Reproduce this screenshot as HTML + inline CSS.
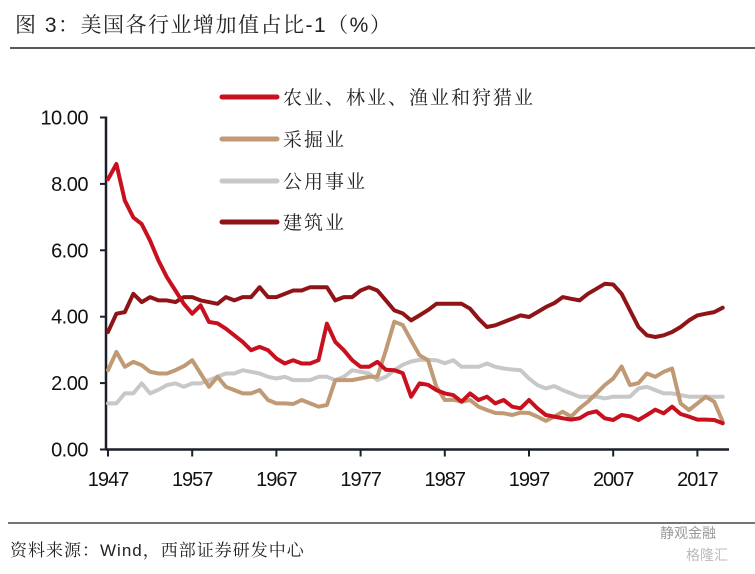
<!DOCTYPE html>
<html><head><meta charset="utf-8">
<style>
html,body{margin:0;padding:0;background:#fff;}
body{width:755px;height:569px;overflow:hidden;font-family:"Liberation Sans","Noto Serif CJK SC","Noto Sans CJK SC",sans-serif;}
</style></head>
<body>
<svg id="chart" width="755" height="569" viewBox="0 0 755 569" xmlns="http://www.w3.org/2000/svg">
  <text x="15" y="32" font-size="21" fill="#222" font-family="'Liberation Sans','Noto Serif CJK SC',serif" letter-spacing="1.5">图 3：美国各行业增加值占比-1（%）</text>
  <line x1="10" y1="48" x2="755" y2="48" stroke="#222" stroke-width="1.5"/>
  <g id="axes"></g>
  <g id="series"></g>
  <g id="legend"></g>
  <line x1="8" y1="523" x2="755" y2="523" stroke="#222" stroke-width="1.2"/>
  <text x="10" y="556" font-size="17" fill="#222" font-family="'Liberation Sans','Noto Serif CJK SC',serif" letter-spacing="1">资料来源：Wind，西部证券研发中心</text>
  <text x="660" y="538" font-size="14" fill="#999" font-family="'Liberation Sans','Noto Sans CJK SC',sans-serif">静观金融</text>
  <text x="686" y="560" font-size="14" fill="#bbb" font-family="'Liberation Sans','Noto Sans CJK SC',sans-serif">格隆汇</text>
</svg>
<script>
const years = [];
for (let y = 1947; y <= 2020; y++) years.push(y);
const seriesNames = ["农业、林业、渔业和狩猎业","采掘业","公用事业","建筑业"];
const agriculture = [8.14,8.6,7.5,6.99,6.79,6.29,5.69,5.19,4.79,4.39,4.09,4.34,3.84,3.8,3.64,3.44,3.24,2.99,3.09,2.99,2.74,2.59,2.69,2.59,2.59,2.69,3.79,3.24,2.99,2.69,2.49,2.49,2.64,2.4,2.39,2.3,1.59,1.99,1.95,1.79,1.69,1.64,1.44,1.69,1.49,1.59,1.39,1.49,1.29,1.24,1.49,1.24,1.04,0.99,0.94,0.9,0.94,1.09,1.15,0.94,0.89,1.04,1.0,0.89,1.04,1.2,1.09,1.29,1.07,0.99,0.9,0.9,0.89,0.79];
const mining = [2.39,2.94,2.49,2.64,2.54,2.34,2.29,2.29,2.39,2.51,2.69,2.29,1.89,2.19,1.89,1.79,1.69,1.69,1.79,1.49,1.39,1.39,1.37,1.49,1.39,1.29,1.34,2.09,2.09,2.09,2.14,2.19,2.19,2.99,3.85,3.75,3.29,2.84,2.69,1.89,1.49,1.5,1.44,1.49,1.29,1.19,1.1,1.09,1.04,1.11,1.1,0.99,0.86,0.99,1.14,0.99,1.24,1.44,1.69,1.94,2.14,2.5,1.94,2.0,2.29,2.19,2.34,2.44,1.39,1.19,1.39,1.59,1.44,0.84];
const utilities = [1.39,1.39,1.69,1.69,1.99,1.69,1.8,1.94,1.99,1.89,1.99,1.99,2.09,2.19,2.29,2.29,2.39,2.34,2.29,2.19,2.14,2.19,2.09,2.09,2.09,2.19,2.19,2.09,2.19,2.39,2.34,2.29,2.09,2.19,2.39,2.55,2.65,2.7,2.7,2.69,2.6,2.69,2.49,2.49,2.49,2.59,2.49,2.44,2.41,2.39,2.14,1.94,1.84,1.91,1.79,1.69,1.59,1.59,1.59,1.54,1.59,1.59,1.59,1.84,1.89,1.79,1.69,1.69,1.64,1.59,1.59,1.59,1.59,1.59];
const construction = [3.54,4.09,4.14,4.69,4.44,4.59,4.49,4.49,4.44,4.59,4.59,4.49,4.44,4.39,4.59,4.49,4.59,4.59,4.89,4.59,4.59,4.69,4.79,4.79,4.89,4.89,4.89,4.49,4.59,4.59,4.79,4.89,4.79,4.49,4.19,4.1,3.89,4.04,4.2,4.39,4.39,4.39,4.39,4.24,3.94,3.69,3.74,3.84,3.94,4.04,3.99,4.14,4.29,4.41,4.59,4.54,4.49,4.69,4.84,4.99,4.97,4.69,4.19,3.69,3.44,3.39,3.44,3.54,3.69,3.89,4.04,4.09,4.14,4.27];
const yTicks = [0,2,4,6,8,10];
const yTickLabels = ["0.00","2.00","4.00","6.00","8.00","10.00"];
const xTicks = [1947,1957,1967,1977,1987,1997,2007,2017];
const colors = ["#c8101e","#bf9a74","#c8c8c8","#8f1418"];

const NS = "http://www.w3.org/2000/svg";
function xs(y){ return 108 + (y - 1947) * 8.42; }
function ys(v){ return 449.5 - v * 33.2; }
function mk(tag, attrs, parent){ const e = document.createElementNS(NS, tag); for (const k in attrs) e.setAttribute(k, attrs[k]); parent.appendChild(e); return e; }

const axes = document.getElementById('axes');
let yAxis = mk('line', {x1:106, y1:ys(10)-1, x2:106, y2:ys(0), stroke:'#1a1f2a', 'stroke-width':2.5}, axes);


let xAxis = mk('line', {x1:106, y1:ys(0), x2:729, y2:ys(0), stroke:'#1a1f2a', 'stroke-width':2.5}, axes);


yTicks.forEach((t, i) => {
  const tk = mk('line', {x1:100, y1:ys(t), x2:106, y2:ys(t), stroke:'#1a1f2a', 'stroke-width':2}, axes);
  
  
  const lb = mk('text', {x:88, y:ys(t)+7, 'text-anchor':'end', 'font-size':20, fill:'#111', 'letter-spacing':'-0.5'}, axes);
  lb.textContent = yTickLabels[i];
  
  
});
xTicks.forEach(t => {
  const tk = mk('line', {x1:xs(t), y1:ys(0), x2:xs(t), y2:ys(0)+7, stroke:'#1a1f2a', 'stroke-width':2}, axes);
  
  
  const lb = mk('text', {x:xs(t), y:486, 'text-anchor':'middle', 'font-size':20, fill:'#111', 'letter-spacing':'-1'}, axes);
  lb.textContent = String(t);
  
  
});

const seriesG = document.getElementById('series');
const allData = [agriculture, mining, utilities, construction];
const seriesKeys = ['agriculture-line','mining-line','utilities-line','construction-line'];
const order = [2, 1, 3, 0];
order.forEach(si => {
  const d = allData[si].map((v, i) => (i ? 'L' : 'M') + xs(years[i]).toFixed(1) + ',' + ys(v).toFixed(1)).join(' ');
  const p = mk('path', {d:d, fill:'none', stroke:colors[si], 'stroke-width':4, 'stroke-linejoin':'round', 'stroke-linecap':'round'}, seriesG);
  
  
});

const legend = document.getElementById('legend');
const legendY = [97, 139, 181, 222];
seriesNames.forEach((n, i) => {
  const ln = mk('line', {x1:222, y1:legendY[i], x2:277, y2:legendY[i], stroke:colors[i], 'stroke-width':5, 'stroke-linecap':'round'}, legend);
  
  
  const tx = mk('text', {x:283, y:legendY[i]+7, 'font-size':19, fill:'#222', 'font-family':"'Liberation Sans','Noto Serif CJK SC',serif", 'letter-spacing':'2'}, legend);
  tx.textContent = n;
  
  
});
</script>
</body></html>
